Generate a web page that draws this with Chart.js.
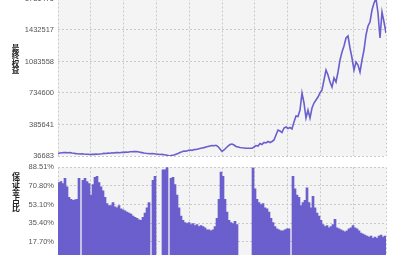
<!DOCTYPE html>
<html>
<head>
<meta charset="utf-8">
<script src="https://cdn.jsdelivr.net/npm/chart.js@4/dist/chart.umd.min.js"></script>
<style>
  html, body { margin:0; padding:0; background:#fff; overflow:hidden; width:400px; height:255px; }
  #wrap { position:relative; width:400px; height:255px; overflow:hidden; }
  #c1 { position:absolute; left:0; top:-20px; }
  #c2 { position:absolute; left:0; top:155px; }
  .ytitle { position:absolute; writing-mode:vertical-rl; text-orientation:upright;
            font-family:"Noto Sans CJK SC", sans-serif; font-weight:bold; font-size:7.6px;
            color:#222; line-height:1; letter-spacing:0; }
</style>
</head>
<body>
<div id="wrap">
  <canvas id="c1" width="400" height="180"></canvas>
  <canvas id="c2" width="400" height="110"></canvas>
  <div class="ytitle" style="left:11.5px; top:44px;">最终权益</div>
  <div class="ytitle" style="left:11.5px; top:172px; font-size:8px;">保证金占比</div>
</div>
<script>
// ---- data ----
const equityTicks = [36683, 385641, 734600, 1083558, 1432517, 1781475];
const marginTicks = [0, 17.70, 35.40, 53.10, 70.80, 88.51];

const equity = [
  64400, 69900, 72100, 74300, 75500, 72100, 74300, 69900, 67700, 63300,
  61100, 58800, 62200, 58800, 56600, 55500, 53300, 56600, 54400, 57700,
  55500, 58800, 61100, 65500, 64400, 68800, 67700, 72100, 69900, 74300,
  75500, 73200, 77700, 76600, 79900, 78800, 83200, 84300, 86500, 85400,
  83200, 78800, 74300, 69900, 66600, 64400, 61100, 63300, 61100, 58800,
  56600, 53300, 54400, 51100, 47800, 43300, 36683, 44400, 47800, 56600,
  64400, 75500, 83200, 92100, 88800, 97600, 103200, 98700, 107600, 108700,
  114200, 119800, 125300, 129700, 136400, 141900, 147500, 153000, 149700, 155200,
  141900, 114200, 86500, 103200, 125300, 147500, 164100, 169600, 158500, 141900,
  136400, 130800, 127500, 125300, 123100, 123100, 122000, 122000, 136400, 153000,
  147500, 175200, 164100, 186200, 180700, 197300, 186200, 197300, 213900, 269300,
  324700, 313600, 297000, 346900, 357900, 341300, 352400, 335800, 413300, 479800,
  474300, 546300, 734600, 623800, 457600, 546300, 457600, 568400, 623800, 657100,
  690300, 734600, 767800, 878600, 989400, 934000, 856500, 801100, 900800, 856500,
  967200, 1100200, 1188800, 1255300, 1343900, 1366000, 1233100, 1122300, 989400, 1078000,
  1044800, 967200, 1100200, 1211000, 1377100, 1476800, 1521100, 1654100, 1731600, 1781475,
  1620800, 1343900, 1631900, 1521100, 1399300
];

const margin = [
  74, 75, 73, 78, 70, 60, 58, 57, 57.5, 58,
  78, 0, 76, 78, 75, 73, 62, 72, 79, 80,
  74, 70, 66, 60, 54, 52, 52, 55, 51, 50,
  52, 49, 48, 47, 46, 45, 44, 42, 41, 40,
  38.5, 38, 41, 45, 50, 55, 0, 76, 80, 0,
  0, 0, 86, 86, 88.51, 0, 78, 79, 72, 62,
  50, 42, 38, 36, 35, 36, 34, 35, 33, 34,
  32, 33, 32, 31, 29, 29, 28, 29, 32, 40,
  58, 84, 80, 58, 46, 38, 36, 35, 37, 34,
  0, 0, 0, 0, 0, 0, 0, 88, 68, 58,
  55, 53, 54, 50, 49, 46, 40, 36, 32, 30,
  29, 28, 28, 29, 30, 30, 0, 80, 68, 62,
  60, 52, 55, 57, 69, 55, 50, 61, 50, 45,
  42, 38, 34, 32, 33, 31, 32, 34, 39, 31,
  30, 29, 28, 27, 28, 30, 31, 33, 31, 30,
  28, 26, 25, 24, 23, 22, 23, 21, 22, 21,
  23, 24, 22, 23
];

// ---- styles ----
const SERIES_COLOR = '#6a5fcc';
const GRID_COLOR = '#c9c9c9';
const PLOT_BG = '#f4f4f4';
const TICK_FONT = { family: '"Liberation Sans", Arial, sans-serif', size: 7.5 };
const TICK_COLOR = '#555';

const plotBg = {
  id: 'plotBg',
  beforeDraw(chart) {
    const a = chart.chartArea, ctx = chart.ctx;
    ctx.save();
    ctx.fillStyle = PLOT_BG;
    ctx.fillRect(a.left, a.top, a.right - a.left, a.bottom - a.top);
    ctx.restore();
  }
};

function gridAxis() {
  return {
    type: 'linear', position: 'bottom', min: 0, max: 10, offset: false,
    afterFit(s) { s.height = 0; s.paddingLeft = 0; s.paddingRight = 0; },
    ticks: { display: false, stepSize: 1 },
    grid: { color: GRID_COLOR, lineWidth: 1, drawTicks: false, offset: false },
    border: { display: false, dash: [2, 2] }
  };
}

function dataXAxis(min, max) {
  return {
    type: 'linear', display: false, min: min, max: max, offset: false,
    grid: { offset: false },
    afterFit(s) { s.height = 0; s.paddingLeft = 0; s.paddingRight = 0; }
  };
}

function yAxis(min, max, tickVals, fmt) {
  return {
    type: 'linear', position: 'left', min: min, max: max,
    afterBuildTicks(s) { s.ticks = tickVals.map(v => ({ value: v })); },
    afterFit(s) { s.width = 58; s.paddingTop = 0; s.paddingBottom = 0; },
    ticks: { font: TICK_FONT, color: TICK_COLOR, padding: 4, callback: fmt, autoSkip: false },
    grid: { color: GRID_COLOR, lineWidth: 1, drawTicks: false },
    border: { display: false, dash: [2, 2] }
  };
}

new Chart(document.getElementById('c1'), {
  type: 'line',
  data: {
    datasets: [{
      data: equity.map((v, i) => ({ x: i, y: v })),
      borderColor: SERIES_COLOR,
      borderWidth: 1.6,
      pointRadius: 0,
      tension: 0,
      xAxisID: 'x', yAxisID: 'y'
    }]
  },
  options: {
    responsive: false, animation: false, devicePixelRatio: 1,
    layout: { padding: { top: 18.5, right: 14, bottom: 4, left: 0 } },
    plugins: { legend: { display: false }, tooltip: { enabled: false } },
    scales: {
      x: dataXAxis(0, equity.length - 1),
      gx: gridAxis(),
      y: yAxis(equityTicks[0], equityTicks[equityTicks.length - 1], equityTicks, v => String(Math.round(v)))
    }
  },
  plugins: [plotBg]
});

new Chart(document.getElementById('c2'), {
  type: 'bar',
  data: {
    datasets: [{
      data: margin.map((v, i) => ({ x: i, y: v })),
      backgroundColor: SERIES_COLOR,
      borderWidth: 0,
      barPercentage: 1,
      categoryPercentage: 1,
      grouped: false,
      xAxisID: 'x', yAxisID: 'y'
    }]
  },
  options: {
    responsive: false, animation: false, devicePixelRatio: 1,
    layout: { padding: { top: 12.3, right: 14, bottom: 4.7, left: 0 } },
    plugins: { legend: { display: false }, tooltip: { enabled: false } },
    scales: {
      x: dataXAxis(-0.5, margin.length - 0.5),
      gx: gridAxis(),
      y: yAxis(0, marginTicks[marginTicks.length - 1], marginTicks, v => Number(v).toFixed(2) + '%')
    }
  },
  plugins: [plotBg]
});
</script>
</body>
</html>
